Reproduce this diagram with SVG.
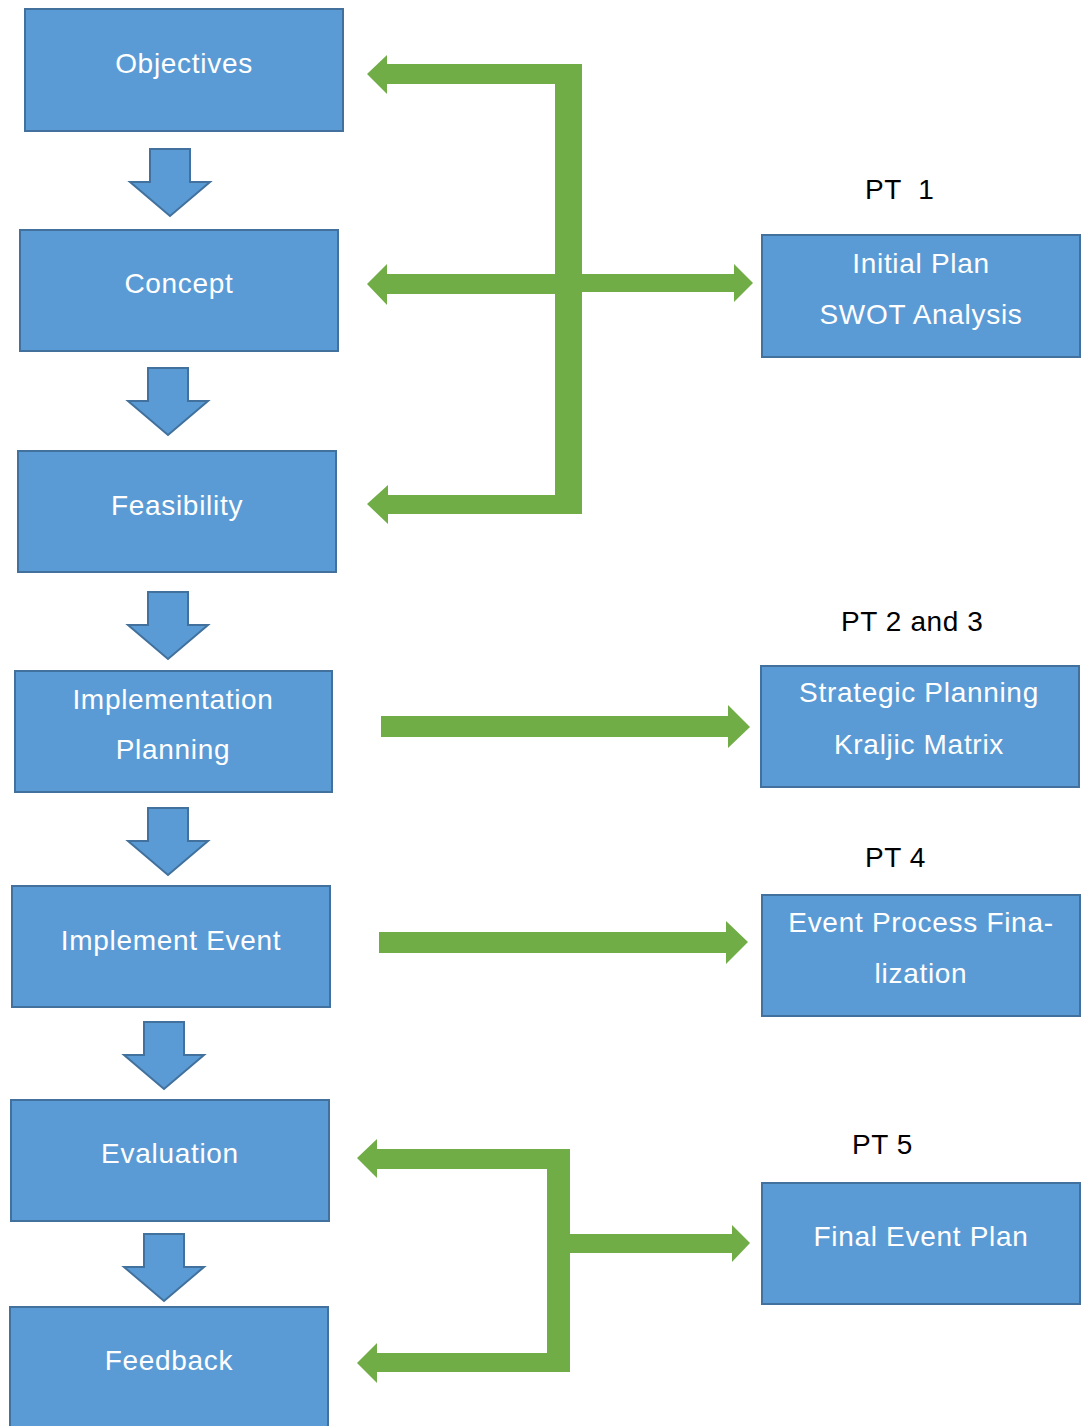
<svg xmlns="http://www.w3.org/2000/svg" width="1085" height="1426" viewBox="0 0 1085 1426">
<style>
.box{fill:#5B9BD5;stroke:#41719C;stroke-width:2}
.down{fill:#5B9BD5;stroke:#41719C;stroke-width:2;stroke-linejoin:miter}
.lbl{fill:#FFFFFF;font-family:"Liberation Sans",Arial,sans-serif;font-size:28px;letter-spacing:0.7px;text-anchor:middle}
.pt{fill:#000000;font-family:"Liberation Sans",Arial,sans-serif;font-size:28px;letter-spacing:0.6px;white-space:pre}
.g{fill:#70AD47}
</style>
<defs>
<path id="dn" d="M-20,0 H20 V33 H40 L0,67 L-40,33 H-20 Z"/>
</defs>
<rect width="1085" height="1426" fill="#FFFFFF"/>

<g id="n-objectives"><rect class="box" x="25" y="9" width="318" height="122"/><text class="lbl" x="184" y="73">Objectives</text></g>
<g id="n-concept"><rect class="box" x="20" y="230" width="318" height="121"/><text class="lbl" x="179" y="293">Concept</text></g>
<g id="n-feasibility"><rect class="box" x="18" y="451" width="318" height="121"/><text class="lbl" x="177" y="515">Feasibility</text></g>
<g id="n-implplan"><rect class="box" x="15" y="671" width="317" height="121"/><text class="lbl" x="173" y="709">Implementation</text><text class="lbl" x="173" y="759">Planning</text></g>
<g id="n-implevent"><rect class="box" x="12" y="886" width="318" height="121"/><text class="lbl" x="171" y="950">Implement Event</text></g>
<g id="n-evaluation"><rect class="box" x="11" y="1100" width="318" height="121"/><text class="lbl" x="170" y="1163">Evaluation</text></g>
<g id="n-feedback"><rect class="box" x="10" y="1307" width="318" height="130"/><text class="lbl" x="169" y="1370">Feedback</text></g>

<g id="n-pt1"><text class="pt" x="865" y="199">PT  1</text><rect class="box" x="762" y="235" width="318" height="122"/><text class="lbl" x="921" y="273">Initial Plan</text><text class="lbl" x="921" y="324">SWOT Analysis</text></g>
<g id="n-pt23"><text class="pt" x="841" y="631">PT 2 and 3</text><rect class="box" x="761" y="666" width="318" height="121"/><text class="lbl" x="919" y="702">Strategic Planning</text><text class="lbl" x="919" y="754">Kraljic Matrix</text></g>
<g id="n-pt4"><text class="pt" x="865" y="867">PT 4</text><rect class="box" x="762" y="895" width="318" height="121"/><text class="lbl" x="921" y="932">Event Process Fina-</text><text class="lbl" x="921" y="983">lization</text></g>
<g id="n-pt5"><text class="pt" x="852" y="1154">PT 5</text><rect class="box" x="762" y="1183" width="318" height="121"/><text class="lbl" x="921" y="1246">Final Event Plan</text></g>

<g id="connectors">
<use href="#dn" class="down" x="170" y="149"/>
<use href="#dn" class="down" x="168" y="368"/>
<use href="#dn" class="down" x="168" y="592"/>
<use href="#dn" class="down" x="168" y="808"/>
<use href="#dn" class="down" x="164" y="1022"/>
<use href="#dn" class="down" x="164" y="1234"/>

<!-- top green bracket -->
<rect class="g" x="555" y="64" width="27" height="450"/>
<path class="g" d="M582,64 H387 V55 L367,74 L387,94 V84 H582 Z"/>
<path class="g" d="M582,274 H387 V264 L367,284 L387,305 V294 H582 Z"/>
<path class="g" d="M582,495 H388 V485 L367,504 L388,524 V514 H582 Z"/>
<path class="g" d="M582,274 H734 V264 L753,283 L734,302 V292 H582 Z"/>

<!-- PT 2 and 3 -->
<path class="g" d="M381,716 H728 V705 L750,727 L728,748 V737 H381 Z"/>
<!-- PT 4 -->
<path class="g" d="M379,932 H726 V921 L748,942 L726,964 V953 H379 Z"/>

<!-- bottom green bracket -->
<rect class="g" x="547" y="1149" width="23" height="223"/>
<path class="g" d="M570,1149 H377 V1139 L357,1158 L377,1178 V1169 H570 Z"/>
<path class="g" d="M570,1353 H377 V1343 L357,1363 L377,1383 V1372 H570 Z"/>
<path class="g" d="M570,1234 H732 V1225 L750,1243 L732,1262 V1253 H570 Z"/>
</g>
</svg>
